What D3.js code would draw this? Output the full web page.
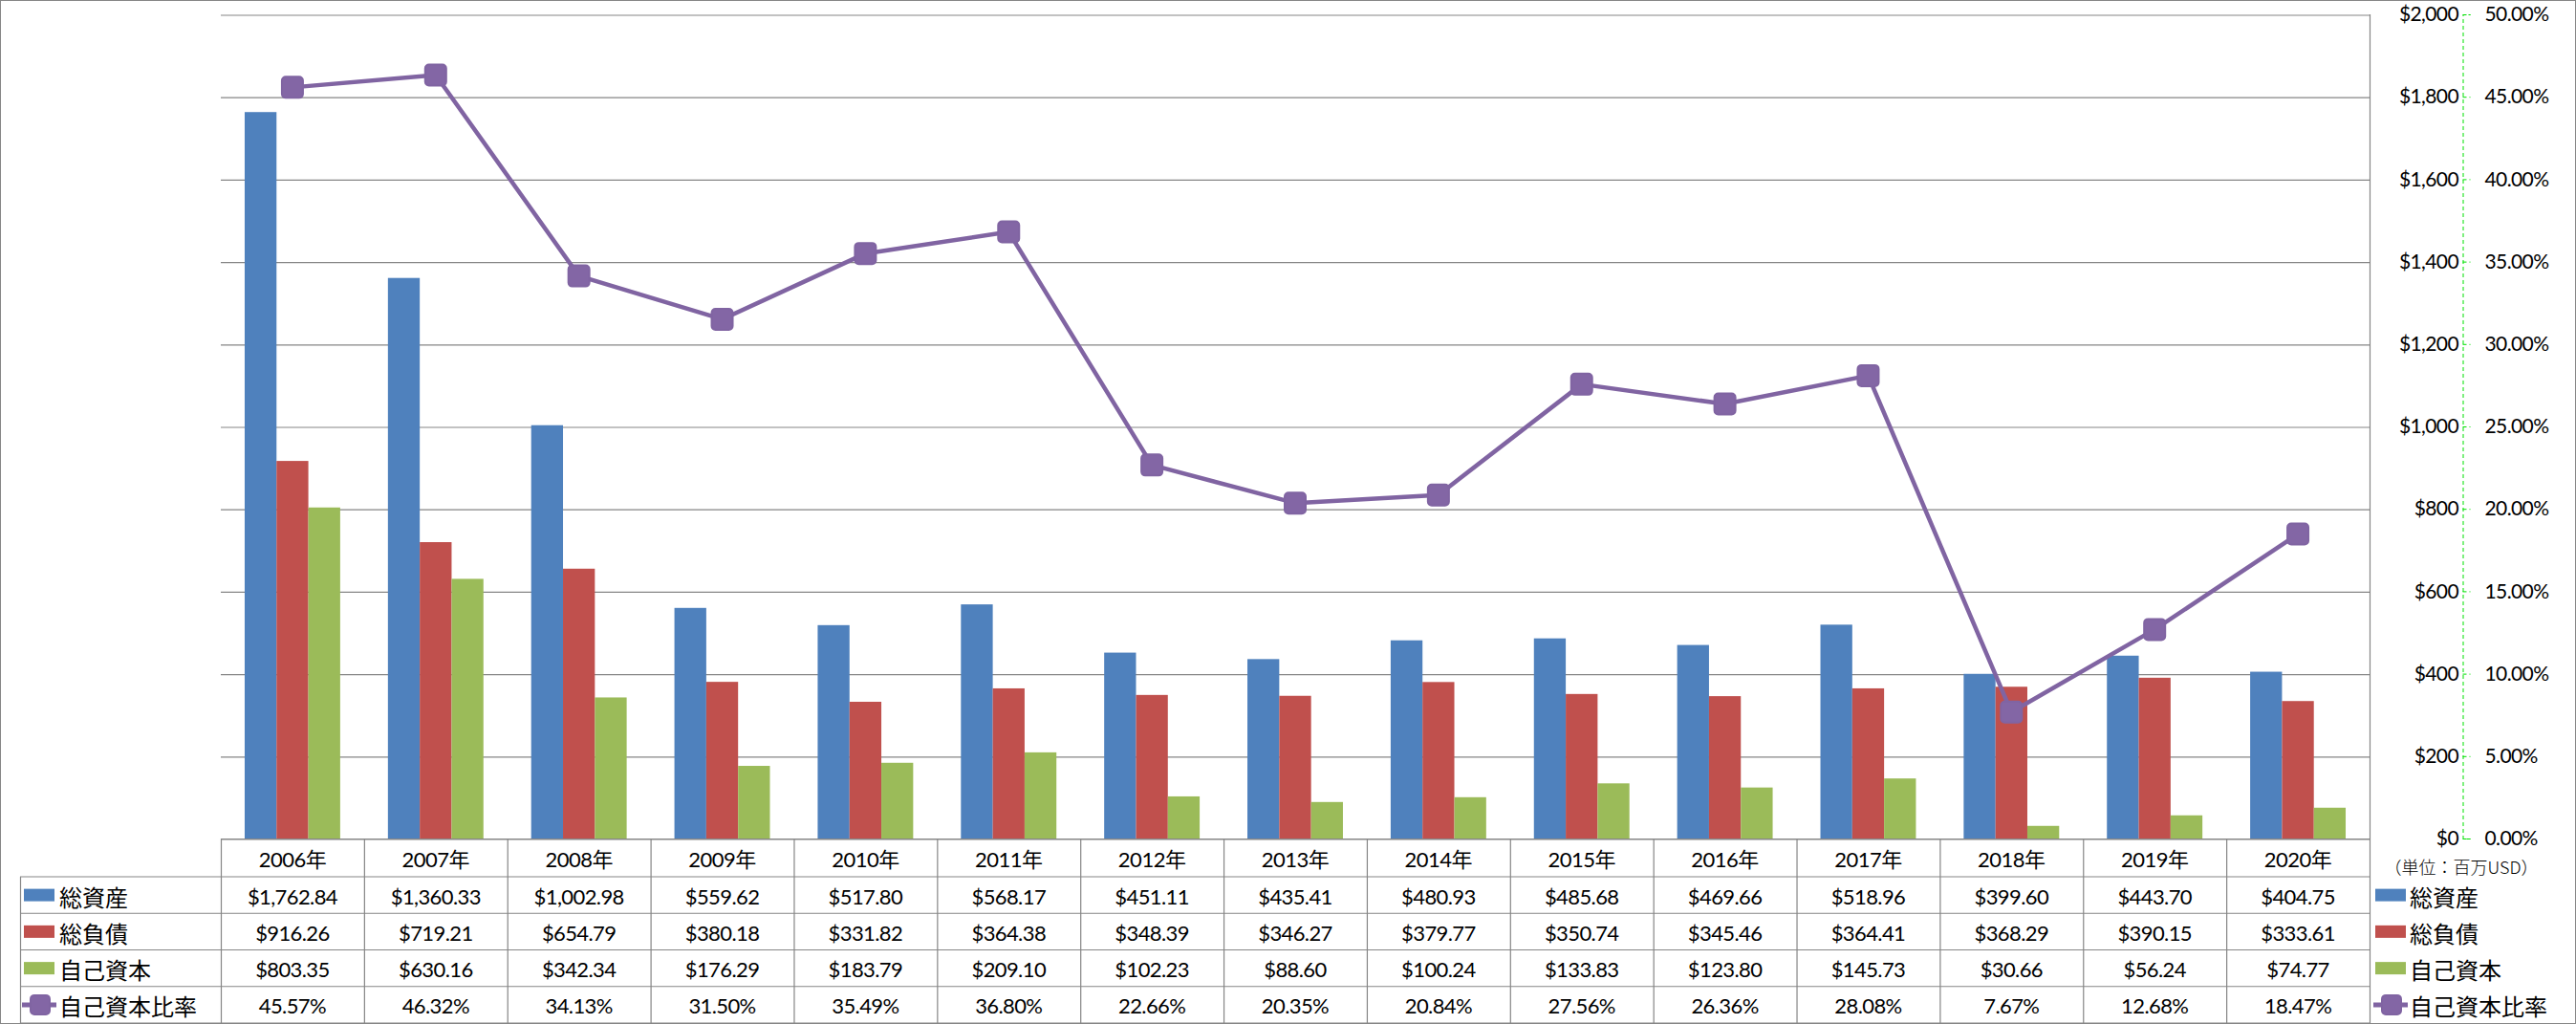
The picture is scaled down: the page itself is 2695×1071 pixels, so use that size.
<!DOCTYPE html>
<html>
<head>
<meta charset="utf-8">
<script src="https://cdn.jsdelivr.net/npm/d3@7"></script>
<style>
  body { margin: 0; background: #fff; }
  svg { display: block; font-family: Lato, "Noto Sans CJK JP", sans-serif; }
</style>
</head>
<body>
<svg id="chart" width="2695" height="1071"></svg>
<script>
// data
var years = ["2006年","2007年","2008年","2009年","2010年","2011年","2012年","2013年","2014年","2015年","2016年","2017年","2018年","2019年","2020年"];
var totalAssets = [1762.84,1360.33,1002.98,559.62,517.80,568.17,451.11,435.41,480.93,485.68,469.66,518.96,399.60,443.70,404.75];
var totalLiabilities = [916.26,719.21,654.79,380.18,331.82,364.38,348.39,346.27,379.77,350.74,345.46,364.41,368.29,390.15,333.61];
var equity = [803.35,630.16,342.34,176.29,183.79,209.10,102.23,88.60,100.24,133.83,123.80,145.73,30.66,56.24,74.77];
var equityRatio = [45.57,46.32,34.13,31.50,35.49,36.80,22.66,20.35,20.84,27.56,26.36,28.08,7.67,12.68,18.47];
var barSeries = ["総資産","総負債","自己資本"];
var lineSeries = "自己資本比率";
var unitLabel = "（単位：百万USD）";

var barColors = ["#4f81bd","#c0504d","#9bbb59"];
var lineColor = "#8064a2";
var gridColor = "#868686";

var svg = d3.select("#chart");
var W = 2695, H = 1071;
var plotL = 231, plotR = 2479, plotT = 15, plotB = 877;
var labelLeft = 21;
var headerBottom = 917, rowH = (1070 - 917) / 4;

// outer frame
svg.append("rect").attr("x", 0.5).attr("y", 0.5).attr("width", W - 1).attr("height", H - 1)
   .attr("fill", "none").attr("stroke", gridColor);

// scales
var x = d3.scaleBand().domain(years).range([plotL, plotR]);
var bw = x.bandwidth();
var barW = bw / 4.5;
var x1 = d3.scaleBand().domain(barSeries).range([bw * 0.75 / 4.5, bw * 0.75 / 4.5 + barW * 3]);
var yL = d3.scaleLinear().domain([0, 2000]).range([plotB, plotT]);
var yR = d3.scaleLinear().domain([0, 50]).range([plotB, plotT]);

// gridlines
var grid = svg.append("g").attr("transform", "translate(" + plotL + ",0.5)")
  .call(d3.axisRight(yL).ticks(10).tickSize(plotR - plotL).tickFormat(""));
grid.select(".domain").remove();
grid.selectAll("line").attr("stroke", gridColor).attr("stroke-width", 1.2);

// bars
var seriesVals = [totalAssets, totalLiabilities, equity];
barSeries.forEach(function(name, si) {
  svg.append("g").selectAll("rect")
    .data(seriesVals[si])
    .enter().append("rect")
    .attr("x", function(d, i) { return x(years[i]) + x1(name); })
    .attr("width", x1.bandwidth())
    .attr("y", function(d) { return yL(d); })
    .attr("height", function(d) { return plotB - yL(d); })
    .attr("fill", barColors[si]);
});

// line
var line = d3.line()
  .x(function(d, i) { return x(years[i]) + bw / 2; })
  .y(function(d) { return yR(d); });
svg.append("path").datum(equityRatio)
  .attr("d", line).attr("fill", "none")
  .attr("stroke", lineColor).attr("stroke-width", 4.5).attr("stroke-linejoin", "round");

svg.append("g").selectAll("rect")
  .data(equityRatio)
  .enter().append("rect")
  .attr("x", function(d, i) { return x(years[i]) + bw / 2 - 11; })
  .attr("y", function(d) { return yR(d) - 11; })
  .attr("width", 22).attr("height", 22).attr("rx", 4)
  .attr("fill", "#8366a5").attr("stroke", lineColor).attr("stroke-width", 2);

// right axes
var axisX = 2576;
var dollarAxis = svg.append("g").attr("transform", "translate(" + axisX + ",0)")
  .call(d3.axisLeft(yL).ticks(10).tickSize(0).tickPadding(4)
    .tickFormat(function(d) { return "$" + d3.format(",")(d); }));
dollarAxis.select(".domain").remove();
dollarAxis.selectAll("text").attr("font-size", 21).attr("fill", "#000")
  .attr("font-family", "Lato, sans-serif").attr("letter-spacing", -0.6);

var pctAxis = svg.append("g").attr("transform", "translate(" + (axisX + 0.5) + ",0)")
  .call(d3.axisRight(yR).ticks(10).tickSize(8).tickPadding(15)
    .tickFormat(function(d) { return d3.format(".2f")(d) + "%"; }));
pctAxis.select(".domain").attr("stroke", "#00e000").attr("stroke-dasharray", "4,3");
pctAxis.selectAll(".tick line").attr("stroke", "#00e000").attr("stroke-dasharray", "4,3");
pctAxis.selectAll("text").attr("font-size", 21).attr("fill", "#000")
  .attr("font-family", "Lato, sans-serif").attr("letter-spacing", -0.6);

// unit label
svg.append("text").attr("x", 2575).attr("y", 906)
  .attr("text-anchor", "middle").attr("dominant-baseline", "central")
  .attr("font-size", 18).attr("font-family", "'Noto Sans CJK JP', sans-serif")
  .attr("font-weight", 300).text(unitLabel);

// data table
var tbl = svg.append("g").attr("stroke", gridColor).attr("stroke-width", 1.2);
tbl.append("line").attr("x1", plotL).attr("x2", plotR).attr("y1", plotB + 0.5).attr("y2", plotB + 0.5);
[0, 1, 2, 3, 4].forEach(function(r) {
  var yy = headerBottom + r * rowH;
  tbl.append("line").attr("x1", labelLeft).attr("x2", plotR).attr("y1", yy).attr("y2", yy);
});
years.forEach(function(yr) {
  tbl.append("line").attr("x1", x(yr) + 0.5).attr("x2", x(yr) + 0.5).attr("y1", plotB).attr("y2", H);
});
tbl.append("line").attr("x1", plotR + 0.5).attr("x2", plotR + 0.5).attr("y1", plotT).attr("y2", H);
tbl.append("line").attr("x1", labelLeft + 0.5).attr("x2", labelLeft + 0.5).attr("y1", headerBottom).attr("y2", H);

// header texts
svg.append("g").selectAll("text")
  .data(years).enter().append("text")
  .attr("x", function(d) { return x(d) + bw / 2; })
  .attr("y", (plotB + headerBottom) / 2 + 1)
  .attr("text-anchor", "middle").attr("dominant-baseline", "central")
  .attr("font-size", 22).attr("letter-spacing", -0.5).text(function(d) { return d; });

var fmtMoney = function(d) { return "$" + d3.format(",.2f")(d); };
var fmtPct = function(d) { return d3.format(".2f")(d) + "%"; };
var rows = [
  { name: barSeries[0], vals: totalAssets, fmt: fmtMoney, color: barColors[0] },
  { name: barSeries[1], vals: totalLiabilities, fmt: fmtMoney, color: barColors[1] },
  { name: barSeries[2], vals: equity, fmt: fmtMoney, color: barColors[2] },
  { name: lineSeries, vals: equityRatio, fmt: fmtPct, color: lineColor, isLine: true }
];

rows.forEach(function(row, r) {
  var cy = headerBottom + r * rowH + rowH / 2;
  svg.append("g").selectAll("text")
    .data(row.vals).enter().append("text")
    .attr("x", function(d, i) { return x(years[i]) + bw / 2; })
    .attr("y", cy + 1)
    .attr("text-anchor", "middle").attr("dominant-baseline", "central")
    .attr("font-size", 22).attr("letter-spacing", -0.6).text(row.fmt);

  // legend keys: left in table, and right side
  [[25, 62], [2485, 2521]].forEach(function(pos) {
    var g = svg.append("g");
    if (row.isLine) {
      g.append("line").attr("x1", pos[0] - 2).attr("x2", pos[0] + 34)
        .attr("y1", cy).attr("y2", cy).attr("stroke", row.color).attr("stroke-width", 5);
      g.append("rect").attr("x", pos[0] + 7).attr("y", cy - 10).attr("width", 20).attr("height", 20)
        .attr("rx", 4).attr("fill", "#8366a5").attr("stroke", row.color).attr("stroke-width", 2);
    } else {
      g.append("rect").attr("x", pos[0]).attr("y", cy - 6.5).attr("width", 32).attr("height", 13)
        .attr("fill", row.color);
    }
    g.append("text").attr("x", pos[1]).attr("y", cy + 1)
      .attr("dominant-baseline", "central")
      .attr("font-size", 24).attr("font-family", "'Noto Sans CJK JP', sans-serif")
      .text(row.name);
  });
});
</script>
</body>
</html>
